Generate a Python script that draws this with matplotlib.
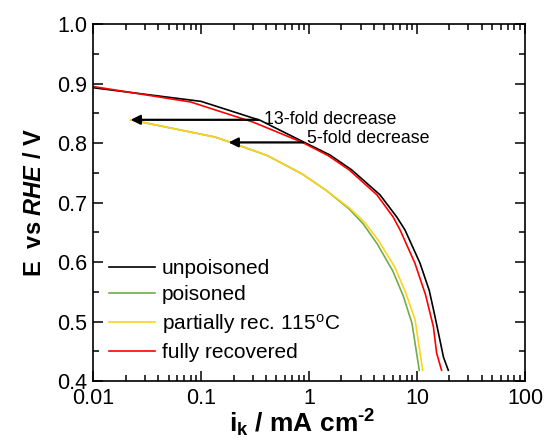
import matplotlib
matplotlib.use('Agg')
import matplotlib.pyplot as plt
import numpy as np

plt.rcParams['font.family'] = ['Liberation Sans', 'DejaVu Sans']
plt.rcParams['mathtext.fontset'] = 'custom'
plt.rcParams['mathtext.rm'] = 'Liberation Sans'
plt.rcParams['mathtext.it'] = 'Liberation Sans:italic'
plt.rcParams['mathtext.bf'] = 'Liberation Sans:bold'
plt.rcParams['mathtext.bfit'] = 'Liberation Sans:italic:bold'

# unpoisoned
ik_unp = [0.01, 0.1, 0.355, 0.885, 1.56, 2.48, 4.54, 6.48, 7.74, 10.67, 13.0, 14.7, 17.6, 19.5]
E_unp = [0.893, 0.870, 0.838, 0.802, 0.780, 0.755, 0.713, 0.676, 0.654, 0.598, 0.552, 0.508, 0.440, 0.418]

# poisoned
ik_poi = [0.0223, 0.135, 0.182, 0.411, 0.865, 1.455, 2.36, 3.18, 4.3, 5.97, 7.46, 8.99, 10.5]
E_poi = [0.839, 0.810, 0.802, 0.779, 0.748, 0.720, 0.689, 0.664, 0.630, 0.585, 0.543, 0.497, 0.418]

# partially recovered 115 C
ik_par = [0.0223, 0.135, 0.182, 0.411, 0.865, 1.455, 2.40, 3.30, 4.44, 6.2, 7.8, 9.6, 11.3]
E_par = [0.839, 0.810, 0.802, 0.779, 0.748, 0.720, 0.690, 0.666, 0.635, 0.592, 0.550, 0.503, 0.418]

# fully recovered
ik_full = [0.01, 0.080, 0.305, 0.87, 1.5, 2.35, 4.25, 6.0, 6.97, 9.57, 12.0, 14.2, 15.2, 16.9]
E_full = [0.895, 0.869, 0.835, 0.801, 0.779, 0.755, 0.713, 0.676, 0.654, 0.598, 0.545, 0.491, 0.447, 0.418]

labels = ['unpoisoned', 'poisoned', 'partially rec. 115$^{\\mathrm{o}}$C', 'fully recovered']
colors = ['black', '#70AD47', '#FFD21F', '#FF0000']

# arrows: (from ik, to ik, E, text, text x, text y)
arrows = [(0.34, 0.0223, 0.839, '13-fold decrease', 0.387, 0.840),
          (0.885, 0.18, 0.801, '5-fold decrease', 0.967, 0.808)]

fig = plt.figure(figsize=(5.44, 4.45), dpi=100)
ax = fig.add_axes([0.171, 0.1438, 0.794, 0.8022])

series = [(ik_unp, E_unp), (ik_poi, E_poi), (ik_par, E_par), (ik_full, E_full)]
for (x, y), lab, c in zip(series, labels, colors):
    ax.plot(x, y, color=c, lw=1.2, label=lab)

for x0, x1, e, txt, tx, ty in arrows:
    ax.annotate('', xy=(x1, e), xytext=(x0, e),
                arrowprops=dict(arrowstyle='-|>', color='black', lw=1.6,
                                mutation_scale=14, shrinkA=0, shrinkB=0))
    ax.text(tx, ty, txt, fontsize=12.8, va='center', ha='left')

ax.set_xscale('log')
ax.set_xlim(0.01, 100)
ax.set_ylim(0.4, 1.0)
ax.set_yticks(np.arange(0.4, 1.01, 0.1))
ax.set_yticks(np.arange(0.45, 1.0, 0.1), minor=True)
ax.set_xticks([0.01, 0.1, 1, 10, 100])
ax.set_xticklabels(['0.01', '0.1', '1', '10', '100'])
ax.tick_params(which='both', direction='in', top=True, right=True, labelsize=15.5, width=1.1)
ax.tick_params(which='major', length=7, pad=5)
ax.tick_params(axis='y', which='major', pad=4)
ax.tick_params(which='minor', length=4)
for s in ax.spines.values():
    s.set_linewidth(1.2)

ax.set_xlabel('$\\mathbf{i_k}$ / mA cm$^{\\mathbf{\u20102}}$', fontsize=19, fontweight='bold', labelpad=1)
ax.xaxis.set_label_coords(0.484, -0.075, transform=ax.transAxes)
ax.xaxis.label.set_va('top')
ax.set_ylabel(r'E  vs $\mathbfit{RHE}$ / V', fontsize=17, fontweight='bold', labelpad=8)

ax.legend(loc='lower left', bbox_to_anchor=(0.0167, 0.0297), frameon=False, fontsize=15,
          handlelength=2.25, handletextpad=0.3, labelspacing=0.35, borderaxespad=0.0)

fig.savefig('out.png', dpi=100)
